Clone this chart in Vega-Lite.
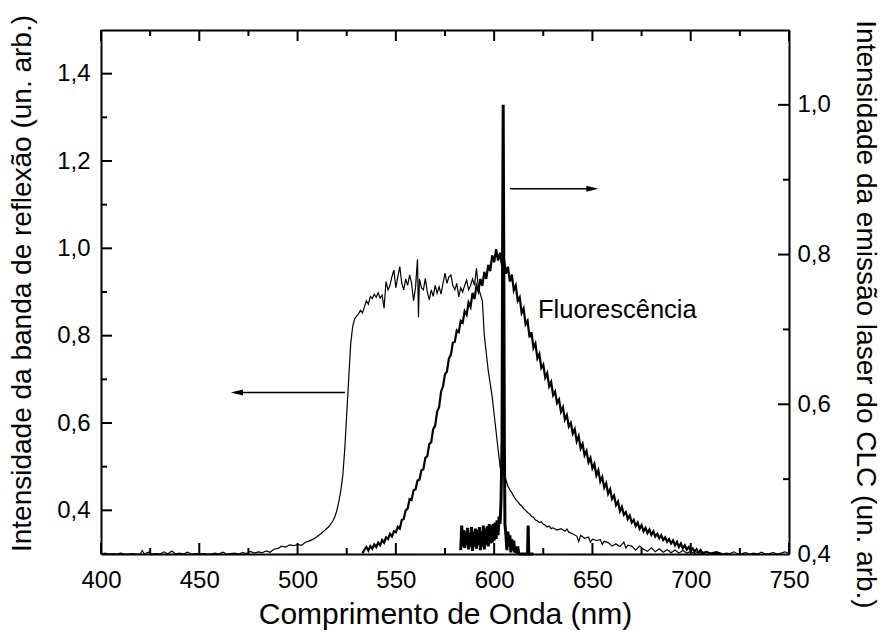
{
  "$schema": "https://vega.github.io/schema/vega-lite/v6.json",
  "autosize": {"type": "none"},
  "padding": {"left": 101, "top": 30, "right": 95, "bottom": 77},
  "width": 688,
  "height": 524,
  "background": "white",
  "config": {
    "view": {"stroke": null},
    "font": "Liberation Sans",
    "axis": {
      "domainColor": "black", "domainWidth": 2,
      "labelColor": "black", "titleColor": "black", "labelFont": "Liberation Sans", "titleFont": "Liberation Sans",
      "labelFontSize": 24, "titleFontSize": 28, "titleFontWeight": "normal", "grid": false,
      "labelOverlap": false, "labelFlush": false
    }
  },
  "datasets": {
    "refl": [
      {"nm":400,"v":0.300},{"nm":402,"v":0.302},{"nm":404,"v":0.300},{"nm":406,"v":0.301},{"nm":408,"v":0.300},{"nm":410,"v":0.302},{"nm":412,"v":0.300},{"nm":414,"v":0.300},{"nm":416,"v":0.301},{"nm":418,"v":0.300},{"nm":420,"v":0.300},{"nm":421,"v":0.308},{"nm":422,"v":0.300},{"nm":424,"v":0.304},{"nm":426,"v":0.300},{"nm":428,"v":0.301},{"nm":430,"v":0.300},{"nm":432,"v":0.305},{"nm":434,"v":0.300},{"nm":436,"v":0.307},{"nm":438,"v":0.300},{"nm":440,"v":0.302},{"nm":442,"v":0.300},{"nm":444,"v":0.304},{"nm":446,"v":0.300},{"nm":448,"v":0.301},{"nm":450,"v":0.300},{"nm":452,"v":0.301},{"nm":454,"v":0.300},{"nm":456,"v":0.300},{"nm":458,"v":0.302},{"nm":460,"v":0.300},{"nm":462,"v":0.304},{"nm":464,"v":0.300},{"nm":466,"v":0.301},{"nm":468,"v":0.302},{"nm":470,"v":0.300},{"nm":472,"v":0.303},{"nm":474,"v":0.301},{"nm":476,"v":0.306},{"nm":478,"v":0.302},{"nm":480,"v":0.305},{"nm":482,"v":0.303},{"nm":484,"v":0.307},{"nm":486,"v":0.304},{"nm":488,"v":0.311},{"nm":490,"v":0.313},{"nm":492,"v":0.318},{"nm":494,"v":0.316},{"nm":496,"v":0.321},{"nm":498,"v":0.319},{"nm":500,"v":0.322},{"nm":502,"v":0.320},{"nm":504,"v":0.327},{"nm":506,"v":0.330},{"nm":508,"v":0.334},{"nm":510,"v":0.340},{"nm":512,"v":0.347},{"nm":514,"v":0.355},{"nm":516,"v":0.363},{"nm":518,"v":0.376},{"nm":519,"v":0.386},{"nm":520,"v":0.400},{"nm":521,"v":0.420},{"nm":522,"v":0.445},{"nm":523,"v":0.48},{"nm":524,"v":0.54},{"nm":525,"v":0.62},{"nm":526,"v":0.70},{"nm":527,"v":0.78},{"nm":528,"v":0.82},
      {"nm":529,"v":0.838},{"nm":530,"v":0.845},{"nm":531,"v":0.850},{"nm":532,"v":0.858},{"nm":533,"v":0.852},{"nm":534,"v":0.866},{"nm":535,"v":0.880},{"nm":536,"v":0.872},{"nm":537,"v":0.890},{"nm":538,"v":0.885},{"nm":539,"v":0.895},{"nm":540,"v":0.888},{"nm":541,"v":0.898},{"nm":542,"v":0.886},{"nm":543,"v":0.893},{"nm":544,"v":0.863},{"nm":545,"v":0.924},{"nm":546,"v":0.905},{"nm":547,"v":0.915},{"nm":548,"v":0.935},{"nm":549,"v":0.950},{"nm":550,"v":0.910},{"nm":551,"v":0.935},{"nm":552,"v":0.958},{"nm":553,"v":0.920},{"nm":554,"v":0.905},{"nm":555,"v":0.930},{"nm":556,"v":0.915},{"nm":557,"v":0.939},{"nm":558,"v":0.920},{"nm":559,"v":0.880},{"nm":560,"v":0.910},{"nm":561,"v":0.975},{"nm":561.5,"v":0.842},{"nm":562,"v":0.930},{"nm":563,"v":0.910},{"nm":564,"v":0.905},{"nm":565,"v":0.931},{"nm":566,"v":0.900},{"nm":567,"v":0.882},{"nm":568,"v":0.905},{"nm":569,"v":0.890},{"nm":570,"v":0.915},{"nm":571,"v":0.897},{"nm":572,"v":0.912},{"nm":573,"v":0.895},{"nm":574,"v":0.920},{"nm":575,"v":0.943},{"nm":576,"v":0.920},{"nm":577,"v":0.935},{"nm":578,"v":0.939},{"nm":579,"v":0.915},{"nm":580,"v":0.905},{"nm":581,"v":0.920},{"nm":582,"v":0.889},{"nm":583,"v":0.910},{"nm":584,"v":0.900},{"nm":585,"v":0.915},{"nm":586,"v":0.927},{"nm":587,"v":0.905},{"nm":588,"v":0.915},{"nm":589,"v":0.930},{"nm":590,"v":0.915},{"nm":591,"v":0.954},{"nm":592,"v":0.910},{"nm":593,"v":0.895},{"nm":594,"v":0.880},
      {"nm":595,"v":0.80},{"nm":596,"v":0.76},{"nm":597,"v":0.72},{"nm":598,"v":0.69},{"nm":599,"v":0.66},{"nm":600,"v":0.62},{"nm":601,"v":0.58},{"nm":602,"v":0.54},{"nm":603,"v":0.50},{"nm":604,"v":0.48},{"nm":605,"v":0.485},{"nm":606,"v":0.47},{"nm":607,"v":0.455},{"nm":608,"v":0.447},{"nm":609,"v":0.44},{"nm":610,"v":0.432},{"nm":611,"v":0.425},{"nm":612,"v":0.42},{"nm":613,"v":0.414},{"nm":614,"v":0.41},{"nm":615,"v":0.404},{"nm":616,"v":0.40},{"nm":617,"v":0.395},{"nm":618,"v":0.392},{"nm":619,"v":0.386},{"nm":620,"v":0.384},{"nm":621,"v":0.378},{"nm":622,"v":0.376},{"nm":623,"v":0.372},{"nm":624,"v":0.374},{"nm":625,"v":0.368},{"nm":626,"v":0.366},{"nm":627,"v":0.362},{"nm":628,"v":0.364},{"nm":629,"v":0.358},{"nm":630,"v":0.36},{"nm":632,"v":0.355},{"nm":634,"v":0.358},{"nm":636,"v":0.352},{"nm":637,"v":0.357},{"nm":638,"v":0.350},{"nm":640,"v":0.346},{"nm":642,"v":0.341},{"nm":643,"v":0.329},{"nm":644,"v":0.343},{"nm":646,"v":0.336},{"nm":648,"v":0.339},{"nm":649,"v":0.327},{"nm":650,"v":0.334},{"nm":652,"v":0.331},{"nm":654,"v":0.333},{"nm":655,"v":0.322},{"nm":656,"v":0.329},{"nm":658,"v":0.326},{"nm":660,"v":0.318},{"nm":662,"v":0.323},{"nm":664,"v":0.317},{"nm":666,"v":0.327},{"nm":667,"v":0.314},{"nm":668,"v":0.320},{"nm":670,"v":0.318},{"nm":672,"v":0.309},{"nm":674,"v":0.318},{"nm":676,"v":0.311},{"nm":678,"v":0.306},{"nm":680,"v":0.314},{"nm":682,"v":0.305},{"nm":684,"v":0.312},{"nm":686,"v":0.304},{"nm":688,"v":0.310},{"nm":690,"v":0.303},{"nm":692,"v":0.309},{"nm":694,"v":0.302},{"nm":696,"v":0.308},{"nm":698,"v":0.302},{"nm":700,"v":0.306},{"nm":702,"v":0.301},{"nm":704,"v":0.305},{"nm":706,"v":0.300},{"nm":708,"v":0.304},{"nm":710,"v":0.302},{"nm":712,"v":0.301},{"nm":714,"v":0.303},{"nm":716,"v":0.300},{"nm":718,"v":0.302},{"nm":720,"v":0.301},{"nm":722,"v":0.305},{"nm":724,"v":0.300},{"nm":726,"v":0.301},{"nm":728,"v":0.303},{"nm":730,"v":0.300},{"nm":732,"v":0.302},{"nm":734,"v":0.300},{"nm":736,"v":0.304},{"nm":738,"v":0.300},{"nm":740,"v":0.301},{"nm":742,"v":0.303},{"nm":744,"v":0.300},{"nm":746,"v":0.302},{"nm":748,"v":0.305},{"nm":750,"v":0.301}
    ],
    "fluor": [
      {"nm":533,"v":0.302},{"nm":534,"v":0.310},{"nm":535,"v":0.316},{"nm":536,"v":0.308},{"nm":537,"v":0.318},{"nm":538,"v":0.312},{"nm":539,"v":0.322},{"nm":540,"v":0.316},{"nm":541,"v":0.326},{"nm":542,"v":0.320},{"nm":543,"v":0.332},{"nm":544,"v":0.326},{"nm":545,"v":0.338},{"nm":546,"v":0.334},{"nm":547,"v":0.346},{"nm":548,"v":0.340},{"nm":549,"v":0.352},{"nm":550,"v":0.350},{"nm":551,"v":0.362},{"nm":552,"v":0.358},{"nm":553,"v":0.378},{"nm":554,"v":0.380},{"nm":555,"v":0.400},{"nm":556,"v":0.404},{"nm":557,"v":0.426},{"nm":558,"v":0.424},{"nm":559,"v":0.446},{"nm":560,"v":0.448},{"nm":561,"v":0.468},{"nm":562,"v":0.470},{"nm":563,"v":0.492},{"nm":564,"v":0.494},{"nm":565,"v":0.520},{"nm":566,"v":0.524},{"nm":567,"v":0.552},{"nm":568,"v":0.556},{"nm":569,"v":0.586},{"nm":570,"v":0.594},{"nm":571,"v":0.626},{"nm":572,"v":0.636},{"nm":573,"v":0.672},{"nm":574,"v":0.684},{"nm":575,"v":0.712},{"nm":576,"v":0.718},{"nm":577,"v":0.748},{"nm":578,"v":0.756},{"nm":579,"v":0.784},{"nm":580,"v":0.786},{"nm":581,"v":0.812},{"nm":582,"v":0.808},{"nm":583,"v":0.834},{"nm":584,"v":0.830},{"nm":585,"v":0.856},{"nm":586,"v":0.848},{"nm":587,"v":0.876},{"nm":588,"v":0.866},{"nm":589,"v":0.898},{"nm":590,"v":0.884},{"nm":591,"v":0.914},{"nm":592,"v":0.902},{"nm":593,"v":0.930},{"nm":594,"v":0.914},{"nm":595,"v":0.946},{"nm":596,"v":0.930},{"nm":597,"v":0.962},{"nm":598,"v":0.948},{"nm":599,"v":0.984},{"nm":600,"v":0.968},{"nm":601,"v":0.998},{"nm":602,"v":0.972},{"nm":603,"v":0.990},{"nm":604,"v":0.960},{"nm":605,"v":0.975},{"nm":606,"v":0.942},{"nm":607,"v":0.958},{"nm":608,"v":0.924},{"nm":609,"v":0.940},{"nm":610,"v":0.904},{"nm":611,"v":0.915},{"nm":612,"v":0.880},{"nm":613,"v":0.888},{"nm":614,"v":0.852},{"nm":615,"v":0.862},{"nm":616,"v":0.826},{"nm":617,"v":0.834},{"nm":618,"v":0.796},{"nm":619,"v":0.808},{"nm":620,"v":0.772},{"nm":621,"v":0.782},{"nm":622,"v":0.748},{"nm":623,"v":0.758},{"nm":624,"v":0.726},{"nm":625,"v":0.734},{"nm":626,"v":0.704},{"nm":627,"v":0.714},{"nm":628,"v":0.684},{"nm":629,"v":0.694},{"nm":630,"v":0.664},{"nm":631,"v":0.672},{"nm":632,"v":0.646},{"nm":633,"v":0.654},{"nm":634,"v":0.626},{"nm":635,"v":0.636},{"nm":636,"v":0.608},{"nm":637,"v":0.618},{"nm":638,"v":0.592},{"nm":639,"v":0.600},{"nm":640,"v":0.576},{"nm":641,"v":0.586},{"nm":642,"v":0.558},{"nm":643,"v":0.570},{"nm":644,"v":0.542},{"nm":645,"v":0.552},{"nm":646,"v":0.526},{"nm":647,"v":0.536},{"nm":648,"v":0.510},{"nm":649,"v":0.520},{"nm":650,"v":0.496},{"nm":651,"v":0.506},{"nm":652,"v":0.480},{"nm":653,"v":0.492},{"nm":654,"v":0.466},{"nm":655,"v":0.476},{"nm":656,"v":0.452},{"nm":657,"v":0.462},{"nm":658,"v":0.438},{"nm":659,"v":0.448},{"nm":660,"v":0.426},{"nm":661,"v":0.434},{"nm":662,"v":0.412},{"nm":663,"v":0.420},{"nm":664,"v":0.398},{"nm":665,"v":0.408},{"nm":666,"v":0.390},{"nm":667,"v":0.396},{"nm":668,"v":0.380},{"nm":669,"v":0.388},{"nm":670,"v":0.372},{"nm":671,"v":0.378},{"nm":672,"v":0.364},{"nm":673,"v":0.372},{"nm":674,"v":0.358},{"nm":675,"v":0.366},{"nm":676,"v":0.352},{"nm":677,"v":0.360},{"nm":678,"v":0.348},{"nm":679,"v":0.356},{"nm":680,"v":0.344},{"nm":681,"v":0.352},{"nm":682,"v":0.340},{"nm":683,"v":0.346},{"nm":684,"v":0.336},{"nm":685,"v":0.343},{"nm":686,"v":0.332},{"nm":687,"v":0.338},{"nm":688,"v":0.328},{"nm":689,"v":0.334},{"nm":690,"v":0.324},{"nm":691,"v":0.331},{"nm":692,"v":0.320},{"nm":693,"v":0.328},{"nm":694,"v":0.316},{"nm":695,"v":0.324},{"nm":696,"v":0.313},{"nm":697,"v":0.320},{"nm":698,"v":0.310},{"nm":699,"v":0.316},{"nm":700,"v":0.308},{"nm":701,"v":0.313},{"nm":702,"v":0.305},{"nm":703,"v":0.311},{"nm":704,"v":0.303},{"nm":705,"v":0.309},{"nm":706,"v":0.302},{"nm":708,"v":0.305},{"nm":710,"v":0.301},{"nm":713,"v":0.304},{"nm":716,"v":0.300}
    ],
    "laser": [
      {"nm":583,"v":0.405},{"nm":583.5,"v":0.438},{"nm":584,"v":0.410},{"nm":584.5,"v":0.432},{"nm":585,"v":0.408},{"nm":585.5,"v":0.430},{"nm":586,"v":0.412},{"nm":586.5,"v":0.435},{"nm":587,"v":0.406},{"nm":587.5,"v":0.428},{"nm":588,"v":0.410},{"nm":588.5,"v":0.436},{"nm":589,"v":0.404},{"nm":589.5,"v":0.430},{"nm":590,"v":0.410},{"nm":590.5,"v":0.434},{"nm":591,"v":0.407},{"nm":591.5,"v":0.432},{"nm":592,"v":0.412},{"nm":592.5,"v":0.436},{"nm":593,"v":0.405},{"nm":593.5,"v":0.430},{"nm":594,"v":0.410},{"nm":594.5,"v":0.438},{"nm":595,"v":0.406},{"nm":595.5,"v":0.434},{"nm":596,"v":0.412},{"nm":596.5,"v":0.437},{"nm":597,"v":0.410},{"nm":597.5,"v":0.440},{"nm":598,"v":0.414},{"nm":598.5,"v":0.438},{"nm":599,"v":0.415},{"nm":599.5,"v":0.440},{"nm":600,"v":0.418},{"nm":600.5,"v":0.442},{"nm":601,"v":0.420},{"nm":601.5,"v":0.445},{"nm":602,"v":0.425},{"nm":602.5,"v":0.450},{"nm":603,"v":0.440},{"nm":603.5,"v":0.470},{"nm":604,"v":0.550},{"nm":604.3,"v":0.800},{"nm":604.6,"v":1.000},{"nm":604.9,"v":0.800},{"nm":605.2,"v":0.550},{"nm":605.5,"v":0.440},{"nm":606,"v":0.425},{"nm":606.5,"v":0.405},{"nm":607,"v":0.430},{"nm":607.5,"v":0.410},{"nm":608,"v":0.425},{"nm":608.5,"v":0.402},{"nm":609,"v":0.420},{"nm":609.5,"v":0.405},{"nm":610,"v":0.418},{"nm":610.5,"v":0.402},{"nm":611,"v":0.410},{"nm":611.5,"v":0.401},{"nm":612,"v":0.410},{"nm":612.5,"v":0.401},{"nm":613,"v":0.400},{"nm":617,"v":0.400},{"nm":617.3,"v":0.438},{"nm":617.6,"v":0.400},{"nm":620,"v":0.400}
    ],
    "arrows": [
      {"x1":524.1,"x2":468,"y":0.670,"tip":466.1,"dir":"left"},
      {"x1":608.1,"x2":651,"y":1.1366,"tip":653.0,"dir":"right"}
    ],
    "labels": [
      {"nm":622.3,"v":0.859,"text":"Fluorescência"}
    ],
    "xticks": [
      {"nm":400,"kind":"major"},{"nm":425,"kind":"minor"},{"nm":450,"kind":"major"},{"nm":475,"kind":"minor"},{"nm":500,"kind":"major"},{"nm":525,"kind":"minor"},{"nm":550,"kind":"major"},{"nm":575,"kind":"minor"},{"nm":600,"kind":"major"},{"nm":625,"kind":"minor"},{"nm":650,"kind":"major"},{"nm":675,"kind":"minor"},{"nm":700,"kind":"major"},{"nm":725,"kind":"minor"},{"nm":750,"kind":"major"}
    ],
    "lticks": [
      {"v":0.4,"kind":"major"},{"v":0.5,"kind":"minor"},{"v":0.6,"kind":"major"},{"v":0.7,"kind":"minor"},{"v":0.8,"kind":"major"},{"v":0.9,"kind":"minor"},{"v":1.0,"kind":"major"},{"v":1.1,"kind":"minor"},{"v":1.2,"kind":"major"},{"v":1.3,"kind":"minor"},{"v":1.4,"kind":"major"}
    ],
    "rticks": [
      {"v":0.5,"kind":"minor"},{"v":0.6,"kind":"major"},{"v":0.7,"kind":"minor"},{"v":0.8,"kind":"major"},{"v":0.9,"kind":"minor"},{"v":1.0,"kind":"major"}
    ]
  },
  "layer": [
    {
      "data": {"name": "refl"},
      "mark": {"type": "line", "color": "black", "strokeWidth": 1.2},
      "encoding": {
        "x": {"field": "nm", "type": "quantitative", "scale": {"domain": [400, 750], "nice": false, "zero": false},
          "axis": {"orient": "bottom", "title": "Comprimento de Onda (nm)", "values": [400,450,500,550,600,650,700,750],
            "format": "d", "ticks": false, "tickSize": 0, "labelPadding": 14, "titlePadding": 7, "titleFontSize": 30}},
        "y": {"field": "v", "type": "quantitative", "scale": {"domain": [0.3, 1.5], "nice": false, "zero": false},
          "axis": {"orient": "left", "title": "Intensidade da banda de reflexão (un. arb.)", "values": [0.4,0.6,0.8,1.0,1.2,1.4],
            "labelExpr": "replace(format(datum.value, '.1f'), '.', ',')",
            "ticks": false, "tickSize": 0, "labelPadding": 11, "titleX": -79, "titleY": 253, "titleBaseline": "middle", "titleAngle": -90}}
      }
    },
    {
      "data": {"name": "fluor"},
      "mark": {"type": "line", "color": "black", "strokeWidth": 2.2},
      "encoding": {
        "x": {"field": "nm", "type": "quantitative",
          "axis": {"orient": "top", "title": null, "labels": false, "domain": true, "ticks": false, "tickSize": 0}},
        "y": {"field": "v", "type": "quantitative", "scale": {"domain": [0.3, 1.5], "nice": false, "zero": false}, "axis": null}
      }
    },
    {
      "data": {"name": "arrows"},
      "mark": {"type": "rule", "color": "black", "strokeWidth": 1.5},
      "encoding": {
        "x": {"field": "x1", "type": "quantitative", "axis": null},
        "x2": {"field": "x2"},
        "y": {"field": "y", "type": "quantitative", "scale": {"domain": [0.3, 1.5], "nice": false, "zero": false}, "axis": null}
      }
    },
    {
      "data": {"name": "arrows"},
      "mark": {"type": "point", "filled": true, "color": "black", "size": 100, "opacity": 1},
      "encoding": {
        "x": {"field": "tip", "type": "quantitative", "axis": null},
        "y": {"field": "y", "type": "quantitative", "scale": {"domain": [0.3, 1.5], "nice": false, "zero": false}, "axis": null},
        "shape": {"field": "dir", "type": "nominal", "legend": null,
          "scale": {"domain": ["left", "right"], "range": ["M0,0L2.4,-0.6L2.4,0.6Z", "M0,0L-2.4,-0.6L-2.4,0.6Z"]}}
      }
    },
    {
      "data": {"name": "labels"},
      "mark": {"type": "text", "align": "left", "baseline": "middle", "fontSize": 25.5, "font": "Liberation Sans", "color": "black"},
      "encoding": {
        "x": {"field": "nm", "type": "quantitative", "axis": null},
        "y": {"field": "v", "type": "quantitative", "scale": {"domain": [0.3, 1.5], "nice": false, "zero": false}, "axis": null},
        "text": {"field": "text"}
      }
    },
    {
      "data": {"name": "xticks"},
      "transform": [
        {"calculate": "0.3", "as": "ya"},
        {"calculate": "datum.kind == 'major' ? 0.3252 : 0.3137", "as": "yb"}
      ],
      "mark": {"type": "rule", "color": "black", "strokeWidth": 2},
      "encoding": {
        "x": {"field": "nm", "type": "quantitative", "axis": null},
        "y": {"field": "ya", "type": "quantitative", "scale": {"domain": [0.3, 1.5], "nice": false, "zero": false}, "axis": null},
        "y2": {"field": "yb"}
      }
    },
    {
      "data": {"name": "xticks"},
      "transform": [
        {"calculate": "1.5", "as": "ya"},
        {"calculate": "datum.kind == 'major' ? 1.4748 : 1.4863", "as": "yb"}
      ],
      "mark": {"type": "rule", "color": "black", "strokeWidth": 2},
      "encoding": {
        "x": {"field": "nm", "type": "quantitative", "axis": null},
        "y": {"field": "ya", "type": "quantitative", "scale": {"domain": [0.3, 1.5], "nice": false, "zero": false}, "axis": null},
        "y2": {"field": "yb"}
      }
    },
    {
      "data": {"name": "lticks"},
      "transform": [
        {"calculate": "400", "as": "xa"},
        {"calculate": "datum.kind == 'major' ? 405.6 : 403.05", "as": "xb"}
      ],
      "mark": {"type": "rule", "color": "black", "strokeWidth": 2},
      "encoding": {
        "x": {"field": "xa", "type": "quantitative", "axis": null},
        "x2": {"field": "xb"},
        "y": {"field": "v", "type": "quantitative", "scale": {"domain": [0.3, 1.5], "nice": false, "zero": false}, "axis": null}
      }
    },
    {
      "data": {"name": "rticks"},
      "transform": [
        {"calculate": "750", "as": "xa"},
        {"calculate": "datum.kind == 'major' ? 744.4 : 746.95", "as": "xb"}
      ],
      "mark": {"type": "rule", "color": "black", "strokeWidth": 2},
      "encoding": {
        "x": {"field": "xa", "type": "quantitative", "axis": null},
        "x2": {"field": "xb"},
        "y": {"field": "v", "type": "quantitative", "scale": {"domain": [0.4, 1.1], "nice": false, "zero": false}, "axis": null}
      }
    },
    {
      "data": {"name": "laser"},
      "mark": {"type": "line", "color": "black", "strokeWidth": 3},
      "encoding": {
        "x": {"field": "nm", "type": "quantitative", "axis": null},
        "y": {"field": "v", "type": "quantitative", "scale": {"domain": [0.4, 1.1], "nice": false, "zero": false},
          "axis": {"orient": "right", "title": "Intensidade da emissão laser do CLC (un. arb.)", "values": [0.4,0.6,0.8,1.0],
            "labelExpr": "replace(format(datum.value, '.1f'), '.', ',')",
            "ticks": false, "tickSize": 0, "labelPadding": 8, "titleX": 75, "titleY": 284, "titleBaseline": "middle", "titleAngle": 90}}
      }
    }
  ],
  "resolve": {"scale": {"y": "independent"}, "axis": {"x": "independent", "y": "independent"}}
}
